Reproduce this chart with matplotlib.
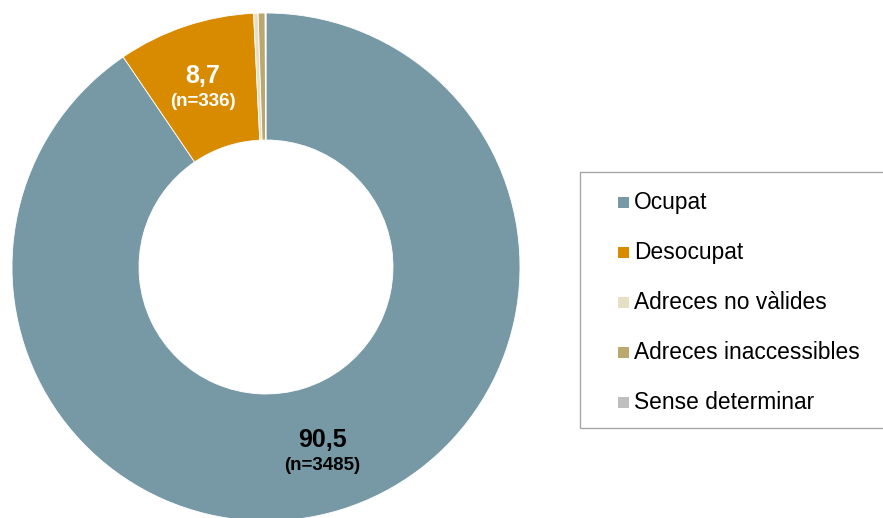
import matplotlib
matplotlib.use('Agg')
import matplotlib.pyplot as plt
from matplotlib.patches import Rectangle

plt.rcParams['font.family'] = ['Liberation Sans', 'DejaVu Sans']

# data
categories = ['Ocupat', 'Desocupat', 'Adreces no vàlides',
              'Adreces inaccessibles', 'Sense determinar']
counts = [3485, 336, 11, 17, 2]
pct_labels = ['90,5', '8,7']
n_labels = ['(n=3485)', '(n=336)']
colors = ['#7699A5', '#D98B00', '#E6DFC4', '#BAA86F', '#BFBFBF']

fig = plt.figure(figsize=(8.83, 5.18), dpi=100)
W, H = 883, 518
cx, cy, r = 266, 267, 254
ax = fig.add_axes([(cx - r) / W, (H - cy - r) / H, 2 * r / W, 2 * r / H])

wedges, _ = ax.pie(counts, colors=colors, startangle=90, counterclock=False,
                   radius=1.0, wedgeprops=dict(width=0.5, edgecolor='white',
                                               linewidth=0.6))
ax.set_xlim(-1, 1)
ax.set_ylim(-1, 1)
ax.set_aspect('auto')
ax.axis('off')


def px(x, y):
    # pixel position in the reference -> data coords of the pie axes
    return (x - cx) / r, (cy - y) / r


# slice labels
x, y = px(322, 440)
ax.text(x, y, pct_labels[0], ha='center', va='center', fontsize=18,
        fontweight='bold', color='black')
x, y = px(322, 466)
ax.text(x, y, n_labels[0], ha='center', va='center', fontsize=13.5,
        fontweight='bold', color='black')
x, y = px(203, 76)
ax.text(x, y, pct_labels[1], ha='center', va='center', fontsize=18,
        fontweight='bold', color='white')
x, y = px(203, 101)
ax.text(x, y, n_labels[1], ha='center', va='center', fontsize=13.5,
        fontweight='bold', color='white')


def fpx(x, y):
    # pixel position -> figure fraction
    return x / W, (H - y) / H


# legend drawn by hand so the box runs off the right edge like the original
x0, y0 = fpx(580, 428)
fig.patches.append(Rectangle((x0, y0), 320 / W, 256 / H,
                             transform=fig.transFigure, facecolor='white',
                             edgecolor='#A6A6A6', linewidth=1.0))
for i, (lab, c) in enumerate(zip(categories, colors)):
    yc = 202 + i * 50.2
    mx, my = fpx(618, yc + 5.5)
    fig.patches.append(Rectangle((mx, my), 11 / W, 11 / H,
                                 transform=fig.transFigure, facecolor=c,
                                 edgecolor='none'))
    tx, ty = fpx(634, yc)
    fig.text(tx, ty, lab, ha='left', va='center', fontsize=16.4,
             color='black')

fig.savefig('out.png', dpi=100)
